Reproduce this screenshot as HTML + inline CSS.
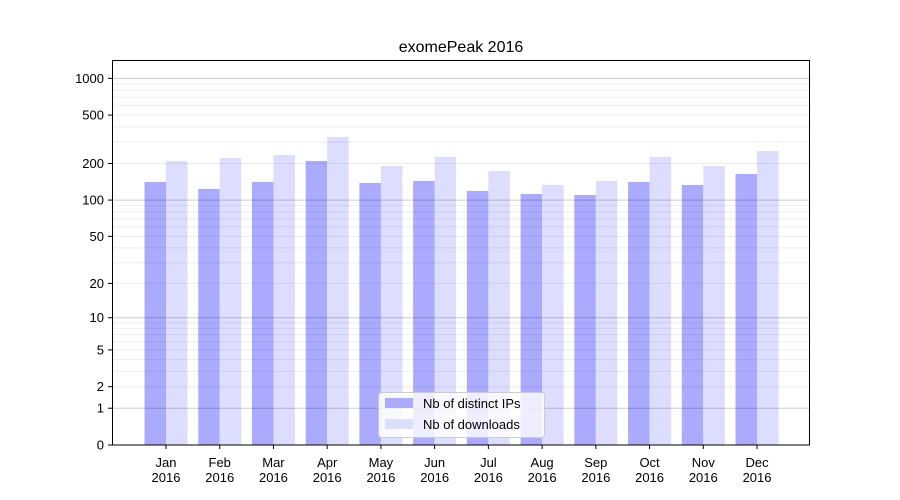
<!DOCTYPE html>
<html><head><meta charset="utf-8"><style>body{margin:0;background:#fff}svg{display:block}text{font-family:"Liberation Sans","DejaVu Sans",sans-serif;fill:#000}</style></head>
<body>
<svg width="900" height="500" viewBox="0 0 900 500" xmlns="http://www.w3.org/2000/svg">
<rect width="900" height="500" fill="#fff"/>
<g id="bars"></g>
<g id="grid"></g>
<rect x="112.5" y="60.5" width="697" height="384.5" fill="none" stroke="#000" stroke-width="1"/>
<text x="461" y="52" font-size="16" text-anchor="middle">exomePeak 2016</text>
<g id="yt" font-size="13" text-anchor="end"></g>
<g id="xt" font-size="13" text-anchor="middle"></g>
<g>
<rect x="378.5" y="392.5" width="166" height="45" rx="3" fill="#fff" fill-opacity="0.8" stroke="#ccc"/>
<rect x="385" y="398" width="28" height="10" fill="#aaaaff"/>
<text x="423" y="408" font-size="13">Nb of distinct IPs</text>
<rect x="385" y="419" width="28" height="10" fill="#ddddff"/>
<text x="423" y="429" font-size="13">Nb of downloads</text>
</g>
<script>
var ns="http://www.w3.org/2000/svg";
function Y(v){return 445-122.2*Math.log10(v+1);}
function el(p,t,a,txt){var e=document.createElementNS(ns,t);for(var k in a)e.setAttribute(k,a[k]);if(txt)e.textContent=txt;document.getElementById(p).appendChild(e);}
[1,10,100,1000].forEach(function(d){for(var m=1;m<10;m++){var v=d*m;if(v>1370)break;var y=Y(v);el("grid","line",{x1:113,x2:809,y1:y,y2:y,stroke:"#000","stroke-opacity":m==1?0.2:0.07,"stroke-width":1});}});
[0,1,2,5,10,20,50,100,200,500,1000].forEach(function(v){var y=Y(v);el("yt","line",{x1:108,x2:112,y1:y,y2:y,stroke:"#000"});el("yt","text",{x:104,y:y+4.5},String(v));});
var mo=["Jan","Feb","Mar","Apr","May","Jun","Jul","Aug","Sep","Oct","Nov","Dec"];
var t=[[182,161],[189,158],[182,155],[161,137],[183,166],[181,157],[191,171],[194,185],[195,181],[182,157],[185,166],[174,151]];
for(var i=0;i<12;i++){var c=166+i*53.73;
el("bars","rect",{x:c-21.5,y:t[i][0],width:21.5,height:445-t[i][0],fill:"#aaaaff"});
el("bars","rect",{x:c,y:t[i][1],width:21.5,height:445-t[i][1],fill:"#ddddff"});
el("xt","line",{x1:c,x2:c,y1:445,y2:449,stroke:"#000"});
el("xt","text",{x:c,y:467},mo[i]);el("xt","text",{x:c,y:482},"2016");}
</script>
</svg>
</body></html>
